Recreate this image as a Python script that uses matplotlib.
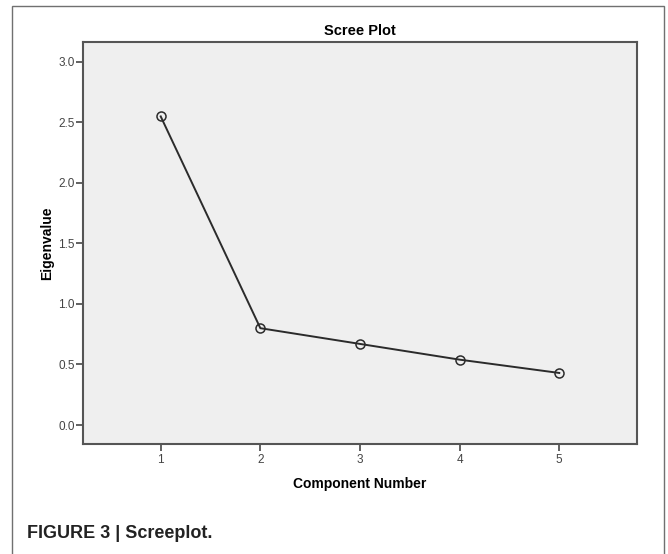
"""Scree plot: eigenvalues by component number."""

import matplotlib

matplotlib.use("Agg")
import matplotlib.pyplot as plt
from matplotlib.patches import Rectangle


components = [1, 2, 3, 4, 5]
eigenvalues = [2.55, 0.80, 0.67, 0.54, 0.43]
y_ticks = [0.0, 0.5, 1.0, 1.5, 2.0, 2.5, 3.0]

plt.rcParams["font.family"] = ["Liberation Sans", "DejaVu Sans"]

fig = plt.figure(figsize=(6.68, 5.54), dpi=100)

# outer frame of the figure panel, open at the bottom
fig.add_artist(Rectangle((12 / 668, -0.01), 652 / 668, 1 - 6 / 554 + 0.01,
                         transform=fig.transFigure, fill=False,
                         edgecolor="#707070", linewidth=1.0))

ax = fig.add_axes([83 / 668, (554 - 444) / 554, 554 / 668, 402 / 554])
ax.set_facecolor("#efefef")
ax.plot(components, eigenvalues, color="#2b2b2b", linewidth=1.4,
        marker="o", markersize=6.5, markerfacecolor="none",
        markeredgecolor="#2b2b2b", markeredgewidth=1.1)

ax.set_xlim(0.22, 5.78)
ax.set_ylim(-0.157, 3.165)
ax.set_xticks(components)
ax.set_yticks(y_ticks)
ax.set_yticklabels([f"{v:.1f}" for v in y_ticks])
ax.tick_params(axis="both", direction="out", length=5, width=1.3,
               color="#555555", labelcolor="#444444", labelsize=8.5)
ax.tick_params(axis="y", pad=1)
ax.tick_params(axis="x", pad=2)
for spine in ax.spines.values():
    spine.set_color("#555555")
    spine.set_linewidth(1.5)

ax.set_title("Scree Plot", fontsize=10.5, fontweight="bold", pad=5)
ax.set_xlabel("Component Number", fontsize=10, fontweight="bold", labelpad=8)
ax.set_ylabel("Eigenvalue", fontsize=10, fontweight="bold", labelpad=3)

fig.text(27 / 668, 1 - 533 / 554, "FIGURE 3 | Screeplot.",
         fontsize=13, fontweight="bold", color="#222222",
         family=["Liberation Sans Narrow", "Liberation Sans"],
         ha="left", va="center")

fig.savefig("out.png", dpi=100)
plt.close(fig)
